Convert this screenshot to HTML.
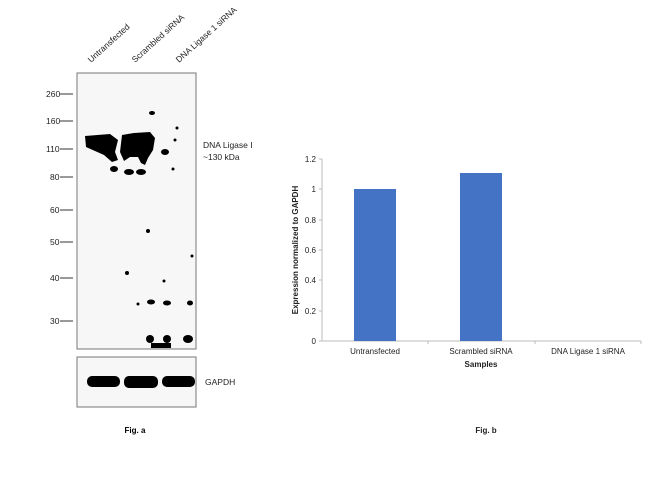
<!DOCTYPE html>
<html><head><style>body{margin:0;background:#fff}svg{display:block}</style></head><body>
<svg width="650" height="482" xmlns="http://www.w3.org/2000/svg" font-family="Liberation Sans, sans-serif">
<rect width="650" height="482" fill="#fff"/>
<!-- lane labels -->
<g font-size="8.5" fill="#222">
<text transform="translate(91,63) rotate(-42)">Untransfected</text>
<text transform="translate(135,63) rotate(-42)">Scrambled siRNA</text>
<text transform="translate(179,63) rotate(-42)">DNA Ligase 1 siRNA</text>
</g>
<!-- blot -->
<rect x="77" y="73" width="119" height="276" fill="#f7f7f7" stroke="#777" stroke-width="1"/>
<g fill="#000">
<path d="M85,136 L110,134 L118,140 L115,152 L118,160 L112,162 L104,155 L95,151 L86,147 Z"/>
<path d="M122,135 L134,133 L150,132 L155,138 L153,150 L148,158 L145,165 L141,163 L138,157 L130,157 L124,161 L120,152 Z"/>
<ellipse cx="114" cy="169" rx="4" ry="3"/>
<ellipse cx="129" cy="172" rx="5" ry="3"/>
<ellipse cx="141" cy="172" rx="5" ry="3"/>
<ellipse cx="165" cy="152" rx="4" ry="3"/>
<ellipse cx="152" cy="113" rx="3" ry="2"/>
<circle cx="177" cy="128" r="1.5"/><circle cx="175" cy="140" r="1.5"/><circle cx="173" cy="169" r="1.5"/>
<circle cx="148" cy="231" r="2"/><circle cx="127" cy="273" r="2"/><circle cx="164" cy="281" r="1.5"/><circle cx="192" cy="256" r="1.5"/>
<ellipse cx="151" cy="302" rx="4" ry="2.5"/><ellipse cx="167" cy="303" rx="4" ry="2.5"/><ellipse cx="190" cy="303" rx="3" ry="2.5"/><circle cx="138" cy="304" r="1.5"/>
<ellipse cx="150" cy="339" rx="4" ry="4"/><ellipse cx="167" cy="339" rx="4" ry="4"/><ellipse cx="188" cy="339" rx="5" ry="4"/>
<rect x="151" y="343" width="20" height="5"/>
</g>
<!-- markers -->
<g font-size="8.5" fill="#222">
<text x="46" y="97">260</text><line x1="60" y1="94" x2="73" y2="94" stroke="#333"/>
<text x="46" y="124">160</text><line x1="60" y1="121" x2="73" y2="121" stroke="#333"/>
<text x="46" y="152">110</text><line x1="60" y1="149" x2="73" y2="149" stroke="#333"/>
<text x="50" y="180">80</text><line x1="60" y1="177" x2="73" y2="177" stroke="#333"/>
<text x="50" y="213">60</text><line x1="60" y1="210" x2="73" y2="210" stroke="#333"/>
<text x="50" y="245">50</text><line x1="60" y1="242" x2="73" y2="242" stroke="#333"/>
<text x="50" y="281">40</text><line x1="60" y1="278" x2="73" y2="278" stroke="#333"/>
<text x="50" y="324">30</text><line x1="60" y1="321" x2="73" y2="321" stroke="#333"/>
<text x="203" y="148">DNA Ligase I</text>
<text x="203" y="160">~130 kDa</text>
</g>
<!-- GAPDH -->
<rect x="77" y="357" width="119" height="50" fill="#f7f7f7" stroke="#777"/>
<rect x="87" y="376" width="33" height="11" rx="5" fill="#000"/>
<rect x="124" y="376" width="34" height="12" rx="5" fill="#000"/>
<rect x="162" y="376" width="33" height="11" rx="5" fill="#000"/>
<text x="205" y="385" font-size="8.5" fill="#222">GAPDH</text>
<text x="135" y="433" font-size="8" font-weight="bold" text-anchor="middle">Fig. a</text>
<!-- bar chart -->
<g stroke="#bbb" stroke-width="1">
<line x1="322" y1="159" x2="322" y2="341"/>
<line x1="322" y1="341" x2="641" y2="341"/>
<line x1="319" y1="159" x2="322" y2="159"/><line x1="319" y1="189" x2="322" y2="189"/><line x1="319" y1="220" x2="322" y2="220"/><line x1="319" y1="250" x2="322" y2="250"/><line x1="319" y1="280" x2="322" y2="280"/><line x1="319" y1="311" x2="322" y2="311"/><line x1="319" y1="341" x2="322" y2="341"/>
<line x1="428" y1="341" x2="428" y2="344"/><line x1="535" y1="341" x2="535" y2="344"/><line x1="641" y1="341" x2="641" y2="344"/>
</g>
<rect x="354" y="189" width="42" height="152" fill="#4472c4"/>
<rect x="460" y="173" width="42" height="168" fill="#4472c4"/>
<g font-size="8" fill="#222" text-anchor="end">
<text x="316" y="162">1.2</text><text x="316" y="192">1</text><text x="316" y="223">0.8</text><text x="316" y="253">0.6</text><text x="316" y="283">0.4</text><text x="316" y="314">0.2</text><text x="316" y="344">0</text>
</g>
<g font-size="8" fill="#222" text-anchor="middle">
<text x="375" y="354">Untransfected</text>
<text x="481" y="354">Scrambled siRNA</text>
<text x="588" y="354">DNA Ligase 1 siRNA</text>
<text x="481" y="367" font-weight="bold">Samples</text>
<text transform="translate(298,250) rotate(-90)" font-weight="bold">Expression normalized to GAPDH</text>
<text x="486" y="433" font-weight="bold">Fig. b</text>
</g>
</svg>
</body></html>
